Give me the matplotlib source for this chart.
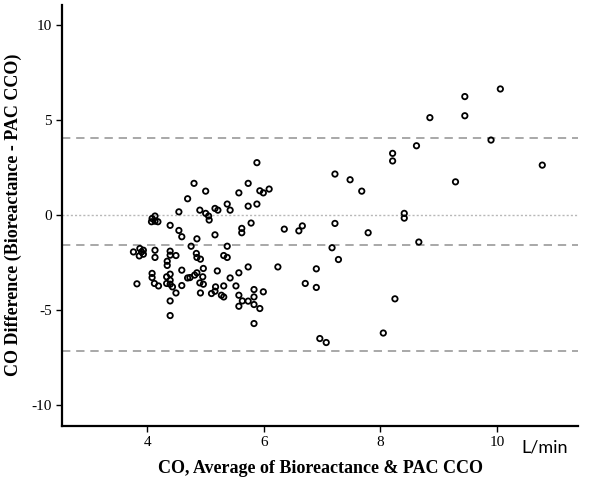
import numpy as np
import matplotlib.pyplot as plt

plt.rcParams["axes.unicode_minus"] = False

# average CO (L/min) and difference (bioreactance - PAC CCO)
co_avg = [4.80, 5.00, 4.69, 4.54, 4.90, 5.00, 5.05, 5.06, 5.16, 5.21,
          4.13, 4.08, 4.07, 4.13, 4.18, 4.39, 4.54, 4.59, 4.85, 5.16,
          4.75, 3.76, 3.87, 3.93, 3.86, 3.93, 3.90, 4.13, 4.13, 4.39,
          4.39, 4.34, 4.34, 4.49, 4.84, 4.85, 4.91, 5.20, 4.59, 4.96,
          4.85, 4.81, 4.73, 4.69, 4.95, 4.90, 4.96, 4.08, 4.08, 4.12,
          4.19, 3.82, 4.39, 4.33, 4.39, 4.33, 4.39, 4.43, 4.49, 4.59,
          4.91, 5.10, 5.16, 5.17, 4.39, 4.39,
          5.88, 5.73, 5.57, 5.93, 5.99, 6.09, 5.73, 5.88, 5.37, 5.42,
          5.78, 5.62, 5.62, 6.35, 6.60, 6.66, 5.37, 5.31, 5.37, 5.73,
          5.57, 5.42, 6.24, 6.90, 5.31, 5.52, 5.27, 5.31, 5.83, 5.99,
          5.83, 5.57, 5.63, 5.73, 5.57, 5.83, 5.93, 6.71, 6.90, 5.83,
          8.85, 8.62, 8.21, 8.21, 7.22, 7.48, 7.68, 8.41, 8.41, 7.22,
          7.79, 8.66, 7.17, 7.28, 8.25, 6.96, 7.07, 8.05,
          10.06, 9.45, 9.45, 9.90, 10.78, 9.29]
co_diff = [1.65, 1.24, 0.84, 0.15, 0.24, 0.07, -0.07, -0.28, 0.33, 0.24,
           -0.07, -0.20, -0.37, -0.34, -0.37, -0.56, -0.83, -1.16, -1.27, -1.06,
           -1.66, -1.96, -1.78, -1.87, -2.17, -2.08, -1.96, -1.87, -2.25, -1.92,
           -2.13, -2.45, -2.67, -2.15, -2.04, -2.25, -2.34, -2.96, -2.92, -2.83,
           -3.06, -3.18, -3.31, -3.33, -3.27, -3.59, -3.66, -3.09, -3.31, -3.62,
           -3.75, -3.64, -3.13, -3.27, -3.45, -3.62, -3.66, -3.80, -4.12, -3.73,
           -4.12, -4.15, -4.03, -3.80, -4.54, -5.31,
           2.74, 1.65, 1.15, 1.26, 1.15, 1.35, 0.45, 0.56, 0.56, 0.24,
           -0.44, -0.72, -0.95, -0.76, -0.85, -0.59, -1.66, -2.15, -2.25, -2.75,
           -3.06, -3.33, -2.75, -2.85, -3.75, -3.75, -4.24, -4.33, -3.94, -4.06,
           -4.33, -4.24, -4.54, -4.55, -4.82, -4.73, -4.94, -3.62, -3.83, -5.73,
           5.11, 3.63, 3.23, 2.83, 2.14, 1.84, 1.24, 0.07, -0.18, -0.46,
           -0.95, -1.44, -1.74, -2.36, -4.43, -6.52, -6.73, -6.23,
           6.62, 6.22, 5.21, 3.93, 2.61, 1.73]

bias = -1.57
upper_loa = 4.05
lower_loa = -7.2

x_ticks = [4, 6, 8, 10]
y_ticks = [-10, -5, 0, 5, 10]

fig = plt.figure(figsize=(6, 4.83), dpi=100)
ax = fig.add_axes([0.104, 0.119, 0.859, 0.871])

# reference lines
ax.axhline(0, color="#b8b8b8", lw=1.0, dashes=(1.5, 1.5), zorder=1)
for val in [upper_loa, bias, lower_loa]:
    ax.axhline(val, color="#999999", lw=1.2, dashes=(5, 3.5), zorder=1)

ax.scatter(co_avg, co_diff, s=15, facecolors="none", edgecolors="black",
           linewidths=1.3, zorder=3)

ax.set_xlim(2.54, 11.39)
ax.set_ylim(-11.1, 11.05)
ax.set_xticks(x_ticks)
ax.set_yticks(y_ticks)

for side in ["top", "right"]:
    ax.spines[side].set_visible(False)
for side in ["left", "bottom"]:
    ax.spines[side].set_linewidth(1.6)

ax.tick_params(direction="out", length=4.5, width=1, pad=3)
for lab in ax.get_xticklabels() + ax.get_yticklabels():
    lab.set_fontfamily("Liberation Serif")
    lab.set_fontsize(11)

ax.set_xlabel("CO, Average of Bioreactance & PAC CCO", fontfamily="Liberation Serif",
              fontweight="bold", fontsize=13, labelpad=8)
ax.set_ylabel("CO Difference (Bioreactance - PAC CCO)", fontfamily="Liberation Serif",
              fontweight="bold", fontsize=13, labelpad=7)

fig.text(0.907, 0.0725, "L/min", fontfamily="Lato", fontsize=13, ha="center", va="center")

fig.savefig("out.png", dpi=100)
